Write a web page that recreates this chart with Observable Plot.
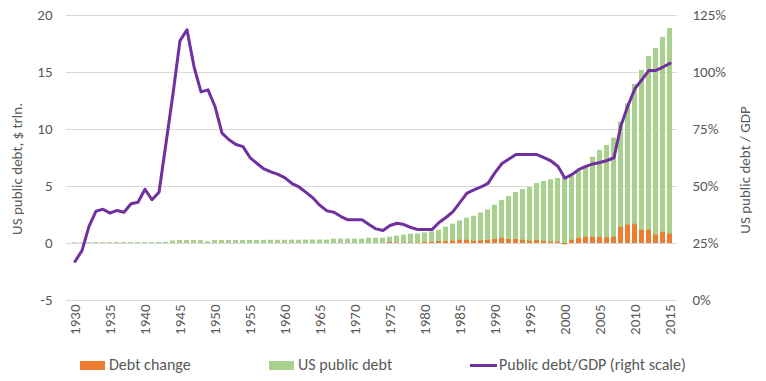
<!DOCTYPE html>
<html>
<head>
<meta charset="utf-8">
<script src="https://cdn.jsdelivr.net/npm/d3@7"></script>
<script src="https://cdn.jsdelivr.net/npm/@observablehq/plot@0.6"></script>
<style>
  html, body { margin: 0; padding: 0; background: #fff; }
  #wrap { position: relative; width: 766px; height: 381px; font-family: Carlito, Lato, sans-serif; color: #595959; }
  .leg { position: absolute; top: 356px; font-size: 16px; line-height: 18px; height: 18px; display: flex; align-items: center; white-space: nowrap; }
  .sw { display: inline-block; width: 25px; height: 9px; margin-right: 4px; }
  .ln { display: inline-block; width: 27px; height: 3px; margin-right: 2px; }
</style>
</head>
<body>
<div id="wrap">
  <div id="chart"></div>
  <div class="leg" style="left:80px"><span class="sw" style="background:#ED7D31"></span>Debt change</div>
  <div class="leg" style="left:269px"><span class="sw" style="background:#A9D18E"></span>US public debt</div>
  <div class="leg" style="left:470px"><span class="ln" style="background:#7030A0"></span>Public debt/GDP (right scale)</div>
</div>
<script>
const years = d3.range(1930, 2016);
const debt = [0.06,0.06,0.07,0.07,0.07,0.07,0.08,0.08,0.08,0.08,
  0.08,0.08,0.09,0.10,0.22,0.26,0.27,0.26,0.25,0.15,
  0.26,0.26,0.27,0.27,0.27,0.27,0.27,0.27,0.28,0.28,
  0.28,0.29,0.29,0.30,0.30,0.30,0.30,0.38,0.38,0.38,
  0.38,0.38,0.46,0.46,0.46,0.55,0.64,0.73,0.82,0.84,
  0.93,1.02,1.17,1.43,1.69,1.98,2.22,2.39,2.68,2.94,
  3.36,3.77,4.12,4.47,4.74,4.91,5.26,5.44,5.59,5.70,
  5.80,5.90,6.34,6.75,7.57,8.16,8.60,9.24,10.64,12.25,
  13.95,15.18,16.40,17.11,18.07,18.86];
const change = [0,0,0,0,0,0,0,0,0,0,
  0,0,0,0,0,0,0,0,0,0,
  0,0,0,0,0,0,0,0,0,0,
  0,0,0,0,0,0,0,0,0,0,
  0,0,0,0,0,0.09,0.03,0.03,0.03,0.03,
  0.09,0.09,0.17,0.17,0.20,0.29,0.29,0.20,0.23,0.29,
  0.35,0.46,0.35,0.35,0.29,0.20,0.29,0.20,0.12,0.12,
  -0.12,0.29,0.46,0.55,0.55,0.55,0.50,0.55,1.43,1.61,
  1.69,1.17,1.17,0.73,0.99,0.82];
const ratio = [17.1,21.9,32.5,39.2,40.0,38.3,39.5,38.7,42.4,43.1,
  48.8,44.2,47.5,69.0,90.7,114.0,118.7,102.6,91.5,92.4,
  85.1,73.4,70.5,68.4,67.5,62.7,60.1,57.7,56.4,55.3,
  53.8,51.3,49.8,47.4,45.0,41.7,39.3,38.7,36.8,35.4,
  35.4,35.4,33.3,31.4,30.7,32.9,33.9,33.3,32.0,31.1,
  31.1,31.1,34.2,36.4,39.0,43.0,47.1,48.5,49.8,51.4,
  56.1,60.1,62.1,64.0,64.0,64.0,64.0,62.7,61.2,58.8,
  53.6,55.3,57.5,58.8,59.9,60.5,61.4,62.6,76.8,85.5,
  93.0,96.9,100.9,100.9,102.4,104.0];
const leftTicks = [-5, 0, 5, 10, 15, 20];
const xTicks = years.filter(y => y % 5 === 0);

const data = years.map((y, i) => ({year: y, debt: debt[i], change: change[i], ratio: ratio[i]}));
const toLeft = p => p / 5 - 5;

const chart = Plot.plot({
  width: 766, height: 345,
  marginTop: 15, marginBottom: 45, marginLeft: 66, marginRight: 89,
  style: {fontFamily: "Carlito, Lato, sans-serif", fontSize: "15px", color: "#595959", background: "#fff"},
  x: {type: "band", domain: years, padding: 0.3},
  y: {domain: [-5, 20]},
  marks: [
    Plot.ruleY(leftTicks, {stroke: "#d9d9d9", strokeWidth: 1}),
    Plot.barY(data, {x: "year", y: "debt", fill: "#A9D18E"}),
    Plot.barY(data, {x: "year", y: "change", fill: "#ED7D31"}),
    Plot.lineY(data, {x: "year", y: d => toLeft(d.ratio), stroke: "#7030A0", strokeWidth: 3, strokeLinejoin: "round"}),
    Plot.axisY(leftTicks, {anchor: "left", tickSize: 0, tickPadding: 14, label: null, fill: "#595959",
      tickFormat: d => String(d)}),
    Plot.axisY(leftTicks, {anchor: "right", tickSize: 0, tickPadding: 15, label: null, fill: "#595959",
      tickFormat: d => ((d + 5) * 5) + "%"}),
    Plot.axisX(xTicks, {tickSize: 0, tickPadding: 4, tickRotate: -90, label: null, fill: "#595959",
      tickFormat: d => String(d)}),
    Plot.text(["US public debt, $ trln."], {frameAnchor: "left", textAnchor: "middle", dx: -49, dy: 11, rotate: -90, fill: "#595959", fontSize: 15}),
    Plot.text(["US public debt / GDP"], {frameAnchor: "right", textAnchor: "middle", dx: 68, dy: 12, rotate: -90, fill: "#595959", fontSize: 15})
  ]
});
document.getElementById("chart").appendChild(chart);
</script>
</body>
</html>
